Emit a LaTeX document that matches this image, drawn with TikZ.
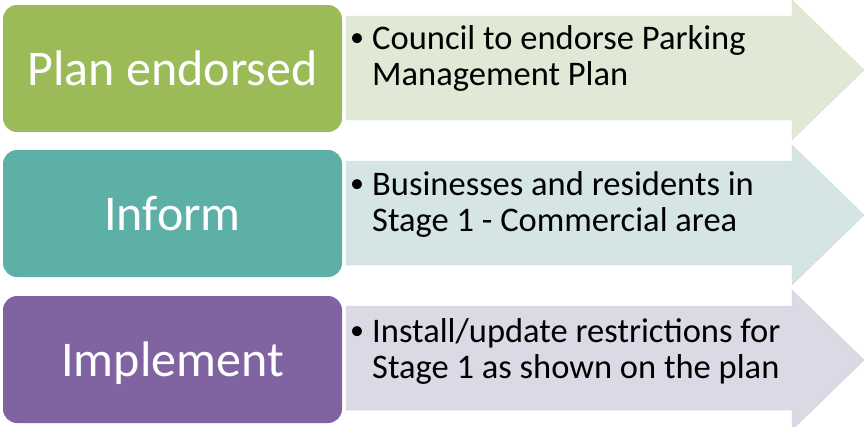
\documentclass[tikz,border=0pt]{standalone}
\usepackage{fontspec}
\setmainfont{Carlito}
\definecolor{planGreen}{HTML}{9BBB59}
\definecolor{planGreenLight}{HTML}{E1E8D5}
\definecolor{planGreenEdge}{HTML}{D8E2C8}
\definecolor{informTeal}{HTML}{5DB0A5}
\definecolor{informTealLight}{HTML}{D4E5E4}
\definecolor{informTealEdge}{HTML}{C8DEDC}
\definecolor{implPurple}{HTML}{8064A2}
\definecolor{implPurpleLight}{HTML}{DCD8E5}
\definecolor{implPurpleEdge}{HTML}{D2CCDE}
\tikzset{
  stagebox/.style={rounded corners=14pt, minimum width=339pt, minimum height=127pt,
    inner sep=0pt, text=white, font=\fontsize{50}{60}\selectfont,
    text height=33pt, text depth=0pt},
  bulletdot/.style={anchor=base west, inner sep=0pt, font=\fontsize{28}{30}\selectfont},
  notetext/.style={anchor=base west, align=left, inner sep=0pt,
    font=\fontsize{34.5}{36}\selectfont}
}
\begin{document}
\begin{tikzpicture}[x=1pt,y=-1pt]
				\useasboundingbox (0,0) rectangle (864,426);
				
				% row 1
				\fill[planGreenLight, draw=planGreenEdge] (346,16) -- (792,16) -- (792,0) -- (864,70) -- (792,140) -- (792,120) -- (346,120) -- cycle;
				\node[stagebox, fill=planGreen] (plan) at (172.5,68.5) {Plan endorsed};
				\node[bulletdot] (planDot) at (350,46) {\textbullet};
				% base anchor sits on the last line
				\node[notetext] (planNote) at (372,85) {Council to endorse Parking\\Management Plan};
				
				% row 2
				\fill[informTealLight, draw=informTealEdge] (346,161) -- (792,161) -- (792,145) -- (864,215) -- (792,285) -- (792,265) -- (346,265) -- cycle;
				\node[stagebox, fill=informTeal] (inform) at (172.5,213.5) {Inform};
				\node[bulletdot] (informDot) at (350,192) {\textbullet};
				\node[notetext] (informNote) at (372,231) {Businesses and residents in\\Stage 1 - Commercial area};
				
				% row 3
				\fill[implPurpleLight, draw=implPurpleEdge] (346,306) -- (792,306) -- (792,290) -- (864,360) -- (792,430) -- (792,410) -- (346,410) -- cycle;
				\node[stagebox, fill=implPurple] (impl) at (172.5,359.5) {Implement};
				\node[bulletdot] (implDot) at (350,339) {\textbullet};
				\node[notetext] (implNote) at (372,378) {Install/update restrictions for\\Stage 1 as shown on the plan};
\end{tikzpicture}
\end{document}
